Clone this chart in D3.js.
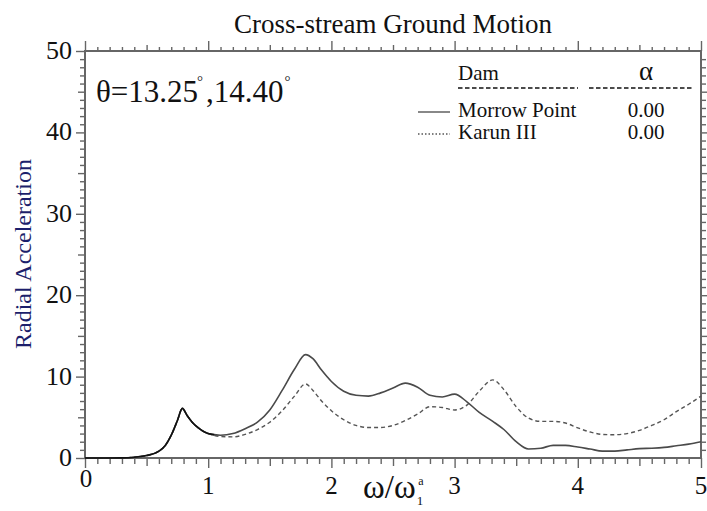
<!DOCTYPE html>
<html><head><meta charset="utf-8">
<script src="https://cdn.jsdelivr.net/npm/d3@7/dist/d3.min.js"></script>
<style>
html,body{margin:0;padding:0;background:#fff;}
svg{display:block;}
</style></head>
<body><div id="chart"></div>
<script>
// ---- data ----
const omega = [0,0.1,0.2,0.3,0.4,0.5,0.6,0.65,0.7,0.75,0.79,0.83,0.87,0.92,0.97,1.03,1.1,1.2,1.3,1.4,1.5,1.6,1.7,1.79,1.85,1.92,2.0,2.1,2.2,2.3,2.4,2.5,2.6,2.7,2.8,2.9,3.0,3.1,3.2,3.31,3.4,3.5,3.6,3.7,3.8,3.9,4.0,4.1,4.2,4.3,4.4,4.5,4.6,4.7,4.8,4.9,5.0];
const morrowPoint = [0,0,0,0.02,0.1,0.3,0.85,1.5,2.8,4.6,6.1,5.2,4.4,3.7,3.2,2.9,2.8,3.0,3.6,4.4,5.9,8.3,10.9,12.7,12.2,10.8,9.4,8.2,7.7,7.6,8.0,8.6,9.2,8.7,7.7,7.5,7.85,6.9,5.6,4.5,3.5,2.0,1.1,1.2,1.55,1.55,1.35,1.1,0.85,0.85,1.0,1.15,1.2,1.3,1.5,1.7,2.0];
const karunIII = [0,0,0,0.02,0.1,0.3,0.85,1.5,2.8,4.6,6.1,5.2,4.4,3.7,3.2,2.85,2.65,2.6,2.9,3.5,4.4,5.8,7.6,9.1,8.3,7.0,5.8,4.7,4.0,3.75,3.75,4.0,4.6,5.4,6.3,6.2,5.9,6.5,8.2,9.6,8.4,6.3,4.9,4.5,4.5,4.3,3.7,3.2,2.9,2.86,3.0,3.4,4.0,4.7,5.7,6.6,7.6];
const seriesNames = ["Morrow Point","Karun III"];
const alphaValues = ["0.00","0.00"];
const xTicks = [0,1,2,3,4,5];
const yTicks = [0,10,20,30,40,50];
const title = "Cross-stream Ground Motion";
const yLabel = "Radial Acceleration";

// ---- layout ----
const W = 707, H = 511;
const L = 85, R = 701, T = 51, B = 458;
const FONT = "Liberation Serif";
const svg = d3.select("#chart").append("svg").attr("width", W).attr("height", H);
const x = d3.scaleLinear().domain([0,5]).range([L,R]);
const y = d3.scaleLinear().domain([0,50]).range([B,T]);
const axisCol = "#666";
function txt(){ return svg.append("text").attr("font-family", FONT).attr("fill","#111"); }

// ticks
const xMinor = d3.range(0,51).map(d=>d/10).filter(d=>Math.abs(d*2-Math.round(d*2))>1e-6);
const xMid = d3.range(0,10).map(d=>d+0.5).filter(d=>d<5);
const yMinor = d3.range(0,51).filter(d=>d%5!==0);
const yMid = [5,15,25,35,45];
function tickAxis(gen, scale, vals, size, tr){
  const g = svg.append("g").attr("transform", tr)
    .call(gen(scale).tickValues(vals).tickSize(size).tickFormat(""));
  g.select(".domain").remove();
  g.selectAll("line").attr("stroke", axisCol).attr("stroke-width", 1.4);
}
tickAxis(d3.axisBottom, x, xMinor, 6, `translate(0,${B})`);
tickAxis(d3.axisBottom, x, xMid, 8, `translate(0,${B})`);
tickAxis(d3.axisBottom, x, xTicks, 10, `translate(0,${B})`);
tickAxis(d3.axisTop, x, xMinor, 4, `translate(0,${T})`);
tickAxis(d3.axisTop, x, xMid, 6, `translate(0,${T})`);
tickAxis(d3.axisTop, x, xTicks, 10, `translate(0,${T})`);
tickAxis(d3.axisLeft, y, yMinor, 5, `translate(${L},0)`);
tickAxis(d3.axisLeft, y, yMid, 7, `translate(${L},0)`);
tickAxis(d3.axisLeft, y, yTicks, 9, `translate(${L},0)`);
tickAxis(d3.axisRight, y, yMinor, 5, `translate(${R},0)`);
tickAxis(d3.axisRight, y, yMid, 7, `translate(${R},0)`);
tickAxis(d3.axisRight, y, yTicks.filter(d=>d>0 && d<50), 7, `translate(${R},0)`);

// frame
svg.append("rect").attr("x",L).attr("y",T).attr("width",R-L).attr("height",B-T)
  .attr("fill","none").attr("stroke",axisCol).attr("stroke-width",2);

// curves
const line = d3.line().x((d,i)=>x(omega[i])).y(d=>y(d)).curve(d3.curveMonotoneX);
svg.append("clipPath").attr("id","common").append("rect")
  .attr("x",x(0)).attr("y",T).attr("width",x(1.05)-x(0)).attr("height",B-T+2);
svg.append("path").datum(karunIII).attr("d", line).attr("fill","none")
  .attr("stroke","#555").attr("stroke-width",1.4).attr("stroke-dasharray","4,3");
svg.append("path").datum(morrowPoint).attr("d", line).attr("fill","none")
  .attr("stroke","#4a4a4a").attr("stroke-width",1.6);
svg.append("path").datum(morrowPoint).attr("d", line).attr("fill","none")
  .attr("clip-path","url(#common)").attr("stroke","#111").attr("stroke-width",1.6);

// tick labels
yTicks.forEach(d=>{
  txt().attr("x", 72).attr("y", y(d)+8).attr("text-anchor","end").attr("font-size",26).text(d);
});
xTicks.forEach(d=>{
  txt().attr("x", x(d)+(d===0?1:0)).attr("y", d===0?487:494).attr("text-anchor","middle")
    .attr("font-size",25).text(d);
});

// title
txt().attr("x",(L+R)/2).attr("y",33).attr("text-anchor","middle").attr("font-size",27).text(title);

// y label
txt().attr("transform","translate(31,254) rotate(-90)").attr("text-anchor","middle")
  .attr("font-size",24).attr("fill","#1c1f6b").text(yLabel);

// x label  ω/ω1^a
const xl = txt().attr("x",363).attr("y",498).attr("font-size",33);
xl.append("tspan").text("ω/ω");
xl.append("tspan").attr("font-size",13).attr("dy",7).attr("dx",1).text("1");
xl.append("tspan").attr("font-size",12).attr("dy",-20).attr("dx",-5).text("a");

// theta annotation
const th = txt().attr("x",96).attr("y",102).attr("font-size",31);
th.append("tspan").text("θ=13.25");
th.append("tspan").attr("font-size",15).attr("dy",-16).attr("dx",-1).text("°");
th.append("tspan").attr("font-size",31).attr("dy",16).attr("dx",3).text(",14.40");
th.append("tspan").attr("font-size",15).attr("dy",-16).attr("dx",1).text("°");

// legend
txt().attr("x",458).attr("y",80).attr("font-size",21).text("Dam");
txt().attr("x",646).attr("y",80).attr("text-anchor","middle").attr("font-size",27).text("α");
svg.append("line").attr("x1",458).attr("x2",578).attr("y1",88).attr("y2",88)
  .attr("stroke","#111").attr("stroke-width",1.6).attr("stroke-dasharray","4.5,2.5");
svg.append("line").attr("x1",589).attr("x2",694).attr("y1",88).attr("y2",88)
  .attr("stroke","#111").attr("stroke-width",1.6).attr("stroke-dasharray","4.5,2.5");
const rows = [{y:117, dash:null},{y:139, dash:"1.5,2"}];
rows.forEach((r,i)=>{
  const ln = svg.append("line").attr("x1",418).attr("x2",450).attr("y1",r.y-5).attr("y2",r.y-5)
    .attr("stroke","#555").attr("stroke-width",1.4);
  if (r.dash) ln.attr("stroke-dasharray", r.dash);
  txt().attr("x",458).attr("y",r.y).attr("font-size",21).text(seriesNames[i]);
  txt().attr("x",646).attr("y",r.y).attr("text-anchor","middle").attr("font-size",21).text(alphaValues[i]);
});
</script></body></html>
